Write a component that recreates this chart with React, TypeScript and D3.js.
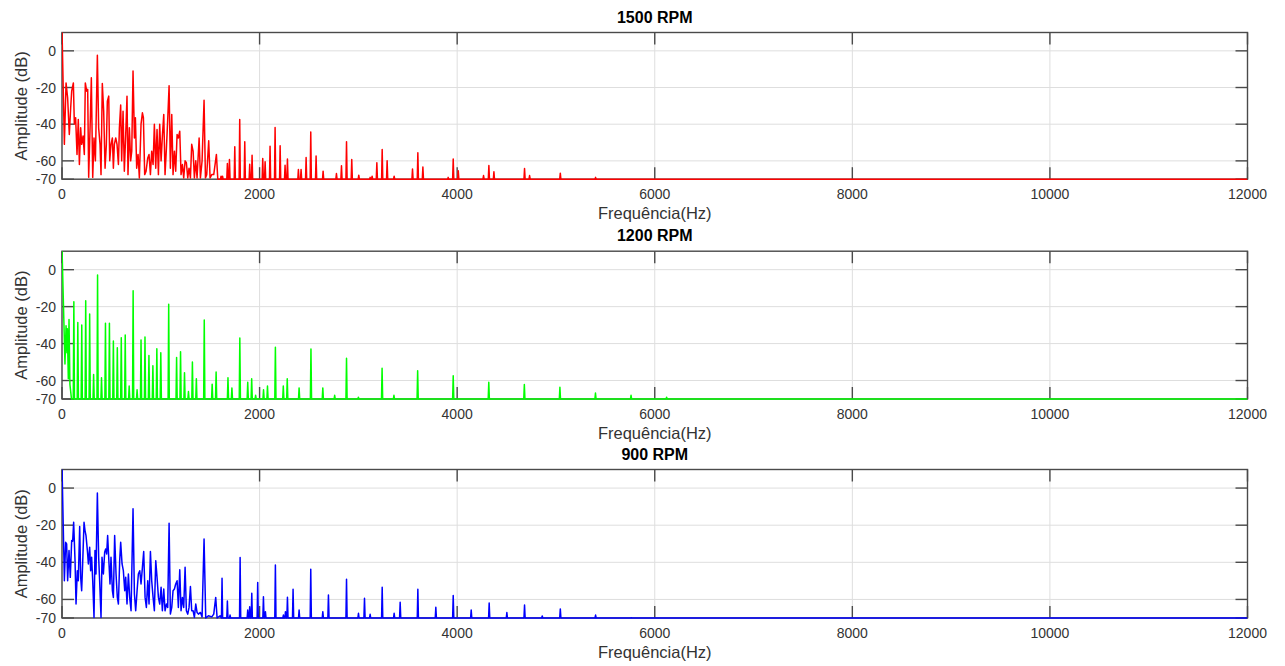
import React from 'react';
import * as d3 from 'd3';

// ---------- data ----------
const TITLES = ['1500 RPM', '1200 RPM', '900 RPM'];
const X_LABEL = 'Frequência(Hz)';
const Y_LABEL = 'Amplitude (dB)';
const X_TICKS = [0, 2000, 4000, 6000, 8000, 10000, 12000];
const Y_TICKS = [-70, -60, -40, -20, 0];
const X_DOMAIN = [0, 12000];
const Y_DOMAIN = [-70, 10];
const FLOOR = -70;

// 1500 RPM: dense low-frequency part (freq Hz, dB)
const dense1500: [number, number][] = [
  [0, 12], [24, -51], [41, -17.5], [57, -25.6], [74, -45.6], [88, -31], [98, -22], [115, -17.5],
  [125, -40], [138, -36.5], [152, -56.5], [165, -37.5], [176, -62], [189, -42], [199, -51], [213, -46.5],
  [226, -56.5], [236, -17.5], [250, -22], [260, -21], [270, -69], [287, -36.5], [297, -14.7], [311, -69],
  [324, -47.5], [338, -60], [358, -2.4], [371, -42], [385, -51], [395, -67.5], [408, -17.8], [422, -33],
  [436, -64], [449, -51], [459, -27.5], [473, -24.7], [483, -60], [496, -51], [510, -47.5], [520, -64],
  [530, -51], [544, -47.5], [557, -51], [571, -62], [581, -42], [594, -29.5], [604, -60], [618, -33],
  [631, -65.6], [645, -45.6], [658, -24.7], [668, -67.5], [682, -42], [695, -60], [706, -54.7], [719, -11],
  [733, -47.5], [743, -36.5], [756, -64], [770, -56.5], [783, -69.3], [800, -40], [814, -33.8], [824, -36.5],
  [837, -67.5], [851, -65.6], [868, -58.4], [881, -56.5], [895, -67.5], [908, -54.7], [922, -62], [935, -40],
  [949, -64], [962, -42.9], [976, -67.5], [989, -40], [1003, -60], [1016, -46.5], [1030, -34.7], [1043, -67.5],
  [1057, -53], [1070, -37.5], [1084, -19], [1097, -64], [1111, -34.7], [1124, -67.5], [1138, -54.7], [1151, -65.6],
  [1165, -45.6], [1178, -47.5], [1192, -43.8], [1205, -67.5], [1219, -62], [1232, -69.3], [1246, -60], [1259, -61],
  [1273, -69.3], [1286, -64], [1300, -69.3], [1313, -51], [1327, -54.7], [1340, -69.3], [1354, -60], [1367, -69.3],
  [1388, -47.5], [1401, -69.3], [1418, -60], [1438, -27], [1452, -69.3], [1465, -67.5], [1485, -49], [1499, -69.3],
  [1516, -67.5], [1536, -67.5], [1563, -56.5], [1577, -70], [1600, -70],
];
// 1500 RPM: isolated peaks above 1600 Hz
const spikes1500: [number, number][] = [
  [1610, -68.4], [1625, -68.4], [1674, -61.4], [1695, -59.3], [1749, -52.3], [1799, -37.4], [1850, -49.6],
  [1900, -61.8], [1924, -56.9], [2032, -58.7], [2056, -60.5], [2106, -52], [2157, -41.8], [2208, -51.8],
  [2258, -62.4], [2282, -59], [2393, -64.7], [2420, -64.7], [2471, -58.2], [2518, -44.2], [2572, -57.4],
  [2643, -65.6], [2778, -66.9], [2829, -62.7], [2880, -49.6], [2933, -59.3], [3004, -67.8], [3119, -69],
  [3139, -68.4], [3187, -61], [3241, -53.8], [3291, -60], [3362, -68.4], [3548, -64.5], [3602, -55.6],
  [3653, -63.3], [3909, -69], [3960, -59], [4011, -65.4], [4267, -68], [4321, -62.5], [4372, -66],
  [4632, -70], [4682, -64.2], [4733, -68], [5044, -66.7], [5401, -69],
];

// 1200 RPM
const dense1200: [number, number][] = [
  [0, 12], [30, -51], [41, -30.4], [50, -45], [54, -32], [64, -59], [71, -27], [80, -62], [96, -70],
];
const spikes1200: [number, number][] = [
  [120, -17.4], [160, -28.6], [200, -30], [240, -16.8], [280, -24], [320, -56.7], [360, -2.9], [400, -58.5],
  [440, -29], [480, -29], [520, -38.6], [560, -42.2], [600, -36.8], [640, -35.3], [680, -63], [720, -11.4],
  [760, -65], [800, -38], [840, -36.4], [880, -46.4], [920, -52], [960, -42.8], [1000, -45], [1080, -18.7],
  [1160, -47.6], [1200, -44.4], [1240, -55.8], [1280, -66], [1320, -50], [1360, -59], [1440, -27.2],
  [1520, -62], [1560, -55.4], [1680, -58.5], [1720, -64], [1800, -37], [1880, -61], [1920, -59],
  [1960, -68], [2040, -65], [2080, -63], [2160, -42], [2240, -63], [2280, -59], [2400, -64], [2520, -43],
  [2640, -64], [2760, -68], [2880, -48], [3000, -69], [3240, -53.4], [3360, -68], [3600, -54.7],
  [3960, -57.4], [4320, -61], [4680, -62.2], [5040, -63.7], [5400, -66.8], [5760, -68], [6120, -69],
];

// 900 RPM
const dense900: [number, number][] = [
  [0, 12], [24, -49.9], [37, -29.2], [47, -30.1], [57, -49.9], [71, -33.7], [84, -48.1], [98, -28.3],
  [108, -28.6], [118, -18.4], [132, -39.1], [142, -62.5], [155, -44.5], [165, -49.9], [179, -20.7], [189, -48.1],
  [199, -55.3], [209, -40.9], [223, -18.4], [233, -22.9], [243, -25.6], [257, -33.7], [267, -40.9], [280, -31.9],
  [290, -44.5], [300, -37.3], [311, -49.9], [324, -69.7], [334, -33.7], [344, -46.3], [358, -2.7], [371, -37.3],
  [381, -49.9], [395, -69.7], [405, -37.3], [419, -46.3], [432, -34.6], [442, -32.8], [452, -35.5], [462, -25.6],
  [476, -40.9], [486, -51.7], [496, -37.3], [510, -55.3], [520, -58.9], [533, -25.6], [547, -46.3], [560, -58.9],
  [571, -62.5], [584, -39.1], [594, -29.2], [608, -40.9], [621, -44.5], [635, -55.3], [645, -48.1], [658, -62.5],
  [672, -46.3], [685, -58.9], [699, -66.1], [719, -11.2], [733, -57.1], [746, -66.1], [760, -55.3], [773, -46.3],
  [787, -44.5], [800, -51.7], [814, -42.7], [827, -34.2], [841, -58.9], [854, -64.3], [868, -49.9], [881, -62.5],
  [895, -34.2], [908, -49.9], [922, -58.9], [935, -66.1], [949, -39.1], [962, -48.1], [976, -58.9], [989, -62.5],
  [1003, -53.5], [1016, -66.1], [1030, -54.4], [1043, -66.1], [1057, -62.5], [1070, -64.3], [1084, -18.9], [1097, -67.9],
  [1111, -64.3], [1124, -55.3], [1138, -54.4], [1151, -51.7], [1165, -49.9], [1178, -64.3], [1192, -44], [1205, -66.1],
  [1219, -58.9], [1232, -64.3], [1246, -42.7], [1259, -66.1], [1273, -67.9], [1286, -64.3], [1300, -53], [1313, -66.1],
  [1327, -66.1], [1340, -69.7], [1354, -62.5], [1367, -67], [1381, -67.9], [1401, -67], [1418, -69.4], [1438, -27.4],
  [1455, -70], [1482, -68.8], [1516, -69.4], [1536, -67.9], [1556, -58.9], [1570, -70], [1600, -68.8],
];
const spikes900: [number, number][] = [
  [1620, -48.6], [1674, -60.8], [1701, -68.4], [1803, -37.4], [1880, -65.7], [1900, -63.9], [1921, -56.7],
  [1981, -50.9], [2039, -58.5], [2059, -66.6], [2160, -41.4], [2241, -68.4], [2262, -66.6], [2282, -58.8],
  [2339, -54.5], [2400, -65.7], [2518, -43.7], [2640, -66.6], [2697, -57.6], [2880, -49.1], [3001, -67.5],
  [3062, -59.4], [3119, -68], [3241, -53.4], [3362, -67.5], [3423, -61.5], [3602, -54.5], [3784, -64.2],
  [3960, -57.9], [4142, -65.7], [4324, -61.9], [4503, -67.1], [4682, -63], [4861, -68.9], [5044, -65.1],
  [5401, -68.4], [5762, -69.9],
];

const DENSE = [dense1500, dense1200, dense900];
const SPIKES = [spikes1500, spikes1200, spikes900];

// ---------- layout / style ----------
const W = 1285;
const H = 666;
const LEFT = 62;
const RIGHT = 1247.5;
const TOPS = [32.5, 251.2, 469.5];
const BOTTOMS = [179.2, 399, 618];
const COLORS = ['#ff0000', '#00ff00', '#0000ff'];
const FONT = '"Liberation Sans", Arial, Helvetica, sans-serif';
const TICK_LEN = 12;
const AXIS_COLOR = '#4a4a4a';
const TEXT_COLOR = '#333333';
const GRID_COLOR = '#dedede';
const SPIKE_HW = 6;

function buildSeries(dense: [number, number][], spikes: [number, number][]): [number, number][] {
  const out: [number, number][] = dense.map((d) => [d[0], d[1]] as [number, number]);
  for (const [f, v] of spikes) {
    out.push([f - SPIKE_HW, FLOOR], [f, v], [f + SPIKE_HW, FLOOR]);
  }
  out.push([X_DOMAIN[1], FLOOR]);
  return out;
}

function Panel({ idx }: { idx: number }) {
  const top = TOPS[idx];
  const bottom = BOTTOMS[idx];
  const x = d3.scaleLinear().domain(X_DOMAIN).range([LEFT, RIGHT]);
  const y = d3.scaleLinear().domain(Y_DOMAIN).range([bottom, top]);
  const series = buildSeries(DENSE[idx], SPIKES[idx]);
  const line = d3
    .line<[number, number]>()
    .x((d) => x(d[0]))
    .y((d) => y(d[1]));
  const clipId = `clip-${idx}`;
  const cx = (LEFT + RIGHT) / 2;
  const cy = (top + bottom) / 2;

  return (
    <g>
      <defs>
        <clipPath id={clipId}>
          <rect x={LEFT} y={top} width={RIGHT - LEFT} height={bottom - top + 1.5} />
        </clipPath>
      </defs>
      <rect x={LEFT} y={top} width={RIGHT - LEFT} height={bottom - top} fill="#ffffff" />
      {/* grid */}
      {X_TICKS.map((t) => (
        <line key={`gx${t}`} x1={x(t)} x2={x(t)} y1={top} y2={bottom} stroke={GRID_COLOR} strokeWidth={1} />
      ))}
      {Y_TICKS.map((t) => (
        <line key={`gy${t}`} x1={LEFT} x2={RIGHT} y1={y(t)} y2={y(t)} stroke={GRID_COLOR} strokeWidth={1} />
      ))}
      {/* box */}
      <rect x={LEFT} y={top} width={RIGHT - LEFT} height={bottom - top} fill="none" stroke={AXIS_COLOR} strokeWidth={1.4} />
      {/* ticks */}
      {X_TICKS.map((t) => (
        <g key={`tx${t}`}>
          <line x1={x(t)} x2={x(t)} y1={bottom} y2={bottom - TICK_LEN} stroke={AXIS_COLOR} strokeWidth={1.4} />
          <line x1={x(t)} x2={x(t)} y1={top} y2={top + TICK_LEN} stroke={AXIS_COLOR} strokeWidth={1.4} />
        </g>
      ))}
      {Y_TICKS.map((t) => (
        <g key={`ty${t}`}>
          <line x1={LEFT} x2={LEFT + TICK_LEN} y1={y(t)} y2={y(t)} stroke={AXIS_COLOR} strokeWidth={1.4} />
          <line x1={RIGHT} x2={RIGHT - TICK_LEN} y1={y(t)} y2={y(t)} stroke={AXIS_COLOR} strokeWidth={1.4} />
        </g>
      ))}
      {/* data */}
      <path
        d={line(series) || ''}
        fill="none"
        stroke={COLORS[idx]}
        strokeWidth={1.5}
        strokeLinejoin="round"
        clipPath={`url(#${clipId})`}
      />
      {/* tick labels */}
      {X_TICKS.map((t) => (
        <text key={`lx${t}`} x={x(t)} y={bottom + 20} textAnchor="middle" fontSize={14} fill={TEXT_COLOR} fontFamily={FONT}>
          {t}
        </text>
      ))}
      {Y_TICKS.map((t) => (
        <text
          key={`ly${t}`}
          x={LEFT - 6}
          y={y(t)}
          textAnchor="end"
          dominantBaseline="central"
          fontSize={14}
          fill={TEXT_COLOR}
          fontFamily={FONT}
        >
          {t}
        </text>
      ))}
      {/* labels */}
      <text x={cx} y={bottom + 40} textAnchor="middle" fontSize={16.5} fill={TEXT_COLOR} fontFamily={FONT}>
        {X_LABEL}
      </text>
      <text
        transform={`translate(27,${cy}) rotate(-90)`}
        textAnchor="middle"
        fontSize={16.5}
        fill={TEXT_COLOR}
        fontFamily={FONT}
      >
        {Y_LABEL}
      </text>
      <text x={cx} y={top - 10} textAnchor="middle" fontSize={16} fontWeight="bold" fill="#000000" fontFamily={FONT}>
        {TITLES[idx]}
      </text>
    </g>
  );
}

export default function App() {
  return (
    <svg
      width={W}
      height={H}
      viewBox={`0 0 ${W} ${H}`}
      style={{ position: 'absolute', left: 0, top: 0, background: '#ffffff' }}
    >
      <rect x={0} y={0} width={W} height={H} fill="#ffffff" />
      {TITLES.map((_, i) => (
        <Panel key={i} idx={i} />
      ))}
    </svg>
  );
}
